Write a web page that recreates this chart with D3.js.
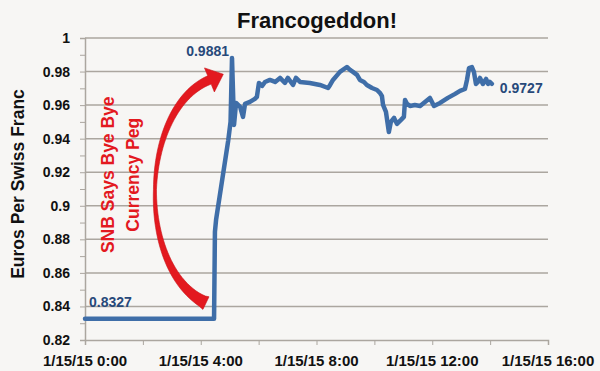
<!DOCTYPE html>
<html>
<head>
<meta charset="utf-8">
<script src="https://cdn.jsdelivr.net/npm/d3@7"></script>
<style>
	body { margin: 0; background: #f7f6f4; }
	svg { display: block; }
	text { font-family: "Liberation Sans", Arial, sans-serif; font-weight: bold; }
</style>
</head>
<body>
<svg id="chart" width="600" height="371"></svg>
<script>

// EUR per CHF on 1/15/15, hours after midnight
var hours = [0, 4.46, 4.49, 4.53, 4.95, 5.03, 5.08, 5.15, 5.22, 5.36, 5.46, 5.53, 5.70, 5.87, 5.94,
	6.01, 6.12, 6.22, 6.39, 6.57, 6.74, 6.91, 7.01, 7.19, 7.29, 7.43, 7.77, 8.12, 8.40, 8.47,
	8.57, 8.81, 9.05, 9.16, 9.26, 9.40, 9.50, 9.64, 9.74, 9.92, 10.09, 10.19, 10.26, 10.30, 10.40,
	10.50, 10.57, 10.68, 10.78, 10.92, 11.02, 11.06, 11.13, 11.23, 11.40, 11.58, 11.75, 11.92, 12.06, 12.27,
	12.54, 12.79, 12.96, 13.13, 13.20, 13.27, 13.37, 13.44, 13.51, 13.58, 13.65, 13.75, 13.86, 13.93, 13.99, 14.06];
var rates = [0.8327, 0.8327, 0.8845, 0.8917, 0.9390, 0.9500, 0.9881, 0.9482, 0.9613, 0.9589, 0.9530, 0.9607, 0.9619, 0.9637, 0.9649,
	0.9732, 0.9714, 0.9738, 0.9750, 0.9738, 0.9762, 0.9732, 0.9762, 0.9720, 0.9762, 0.9738, 0.9732, 0.9720, 0.9702, 0.9720,
	0.9750, 0.9798, 0.9827, 0.9810, 0.9798, 0.9780, 0.9750, 0.9738, 0.9720, 0.9702, 0.9690, 0.9673, 0.9655, 0.9601, 0.9560,
	0.9440, 0.9500, 0.9524, 0.9488, 0.9512, 0.9530, 0.9631, 0.9607, 0.9595, 0.9601, 0.9595, 0.9619, 0.9643, 0.9595, 0.9613,
	0.9643, 0.9667, 0.9685, 0.9696, 0.9750, 0.9821, 0.9827, 0.9798, 0.9726, 0.9738, 0.9762, 0.9726, 0.9756, 0.9726, 0.9738, 0.9727];

var xTickHours = [0, 2, 4, 6, 8, 10, 12, 14, 16];
var xLabelHours = [0, 4, 8, 12, 16];
var xLabels = ["1/15/15 0:00", "1/15/15 4:00", "1/15/15 8:00", "1/15/15 12:00", "1/15/15 16:00"];
var yMajor = [0.82, 0.84, 0.86, 0.88, 0.9, 0.92, 0.94, 0.96, 0.98, 1];
var yLabels = ["0.82", "0.84", "0.86", "0.88", "0.9", "0.92", "0.94", "0.96", "0.98", "1"];

// callouts: [hour, rate, text]
var callouts = [[5.08, 0.9881, "0.9881"], [0, 0.8327, "0.8327"], [14.06, 0.9727, "0.9727"]];

var PLOT_L = 85, PLOT_R = 548, PLOT_T = 38, PLOT_B = 340;
var LINE_COLOR = "#3f6ea8", LABEL_COLOR = "#27497a", GRID_COLOR = "#aba69f", RED = "#e3191f";

var svg = d3.select("#chart");

var x = d3.scaleLinear().domain([0, 16]).range([PLOT_L, PLOT_R]);
var y = d3.scaleLinear().domain([0.82, 1]).range([PLOT_B, PLOT_T]);

// gridlines
svg.append("g").selectAll("line")
	.data(yMajor.slice(1))
	.enter().append("line")
	.attr("x1", PLOT_L).attr("x2", PLOT_R)
	.attr("y1", function(d) { return y(d); })
	.attr("y2", function(d) { return y(d); })
	.attr("stroke", GRID_COLOR).attr("stroke-width", 1.5);

// y axis with minor ticks every 0.01
var yAxis = d3.axisLeft(y).tickValues(d3.range(82, 101).map(function(d) { return d / 100; }))
	.tickSize(5).tickFormat("");
var gy = svg.append("g").attr("transform", "translate(" + PLOT_L + ",0)").call(yAxis);
gy.select(".domain").attr("stroke", GRID_COLOR).attr("stroke-width", 1.5);
gy.selectAll(".tick line").attr("stroke", GRID_COLOR);

svg.append("g").selectAll("text")
	.data(yMajor)
	.enter().append("text")
	.attr("x", 70)
	.attr("y", function(d) { return y(d) + 5; })
	.attr("text-anchor", "end")
	.attr("font-size", 14)
	.attr("fill", "#111")
	.text(function(d, i) { return yLabels[i]; });

// x axis
var xAxis = d3.axisBottom(x).tickValues(xTickHours).tickSize(5).tickFormat("");
var gx = svg.append("g").attr("transform", "translate(0," + PLOT_B + ")").call(xAxis);
gx.select(".domain").attr("stroke", GRID_COLOR).attr("stroke-width", 1.5);
gx.selectAll(".tick line").attr("stroke", GRID_COLOR);

svg.append("g").selectAll("text")
	.data(xLabelHours)
	.enter().append("text")
	.attr("x", function(d) { return x(d); })
	.attr("y", 366)
	.attr("text-anchor", "middle")
	.attr("font-size", 15)
	.attr("fill", "#111")
	.text(function(d, i) { return xLabels[i]; });

// title and axis title
svg.append("text")
	.attr("x", 317).attr("y", 28)
	.attr("text-anchor", "middle")
	.attr("font-size", 22)
	.attr("fill", "#111")
	.text("Francogeddon!");

svg.append("text")
	.attr("transform", "translate(24,184) rotate(-90)")
	.attr("text-anchor", "middle")
	.attr("font-size", 17.5)
	.attr("fill", "#111")
	.text("Euros Per Swiss Franc");

// red curved arrow, centreline as a cubic bezier in data space
var arrowCtl = [[4.18, 0.8420], [1.72, 0.8625], [1.90, 0.9580], [4.30, 0.9750]];
var P = arrowCtl.map(function(p) { return [x(p[0]), y(p[1])]; });

function bez(t) {
	var u = 1 - t;
	var a = u*u*u, b = 3*u*u*t, c = 3*u*t*t, e = t*t*t;
	return [a*P[0][0] + b*P[1][0] + c*P[2][0] + e*P[3][0],
		a*P[0][1] + b*P[1][1] + c*P[2][1] + e*P[3][1]];
}
function bezTan(t) {
	var u = 1 - t;
	var dx = 3*u*u*(P[1][0]-P[0][0]) + 6*u*t*(P[2][0]-P[1][0]) + 3*t*t*(P[3][0]-P[2][0]);
	var dy = 3*u*u*(P[1][1]-P[0][1]) + 6*u*t*(P[2][1]-P[1][1]) + 3*t*t*(P[3][1]-P[2][1]);
	var l = Math.sqrt(dx*dx + dy*dy);
	return [dx/l, dy/l];
}
function shaftW(t) {
	// thick tail, thin middle, a bit thicker near the head
	return t < 0.5 ? 14 - 11 * Math.sqrt(t / 0.5) : 3 + 6 * ((t - 0.5) / 0.5);
}

var leftSide = [], rightSide = [];
for (var i = 0; i <= 60; i++) {
	var t = i / 60, p = bez(t), d = bezTan(t), w = shaftW(t) / 2;
	leftSide.push([p[0] + d[1]*w, p[1] - d[0]*w]);
	rightSide.push([p[0] - d[1]*w, p[1] + d[0]*w]);
}
var end = bez(1), dir = bezTan(1);
var head = [
	[end[0] + dir[1]*13, end[1] - dir[0]*13],
	[end[0] + dir[0]*15, end[1] + dir[1]*15],
	[end[0] - dir[1]*13, end[1] + dir[0]*13]
];
var arrowPts = leftSide.concat([head[0], head[1], head[2]]).concat(rightSide.reverse());

svg.append("path")
	.attr("d", d3.line()(arrowPts) + "Z")
	.attr("fill", RED)
	.attr("stroke", "#c8141a")
	.attr("stroke-width", 0.6);

svg.append("text")
	.attr("transform", "translate(" + x(1.0) + "," + y(0.9185) + ") rotate(-90)")
	.attr("text-anchor", "middle")
	.attr("font-size", 17.5)
	.attr("fill", RED)
	.text("SNB Says Bye Bye");

svg.append("text")
	.attr("transform", "translate(" + x(1.87) + "," + y(0.9185) + ") rotate(-90)")
	.attr("text-anchor", "middle")
	.attr("font-size", 17.5)
	.attr("fill", RED)
	.text("Currency Peg");

// the rate line
var line = d3.line()
	.x(function(d) { return x(d[0]); })
	.y(function(d) { return y(d[1]); });

svg.append("path")
	.datum(hours.map(function(h, i) { return [h, rates[i]]; }))
	.attr("d", line)
	.attr("fill", "none")
	.attr("stroke", LINE_COLOR)
	.attr("stroke-width", 4.5)
	.attr("stroke-linejoin", "round")
	.attr("stroke-linecap", "round");

// value callouts
svg.append("text")
	.attr("x", x(callouts[0][0]) - 3).attr("y", y(callouts[0][1]) - 2)
	.attr("text-anchor", "end").attr("font-size", 14).attr("fill", LABEL_COLOR)
	.text(callouts[0][2]);
svg.append("text")
	.attr("x", x(callouts[1][0]) + 4).attr("y", y(callouts[1][1]) - 12)
	.attr("font-size", 14).attr("fill", LABEL_COLOR)
	.text(callouts[1][2]);
svg.append("text")
	.attr("x", x(callouts[2][0]) + 8).attr("y", y(callouts[2][1]) + 9)
	.attr("font-size", 14).attr("fill", LABEL_COLOR)
	.text(callouts[2][2]);

</script>
</body>
</html>
